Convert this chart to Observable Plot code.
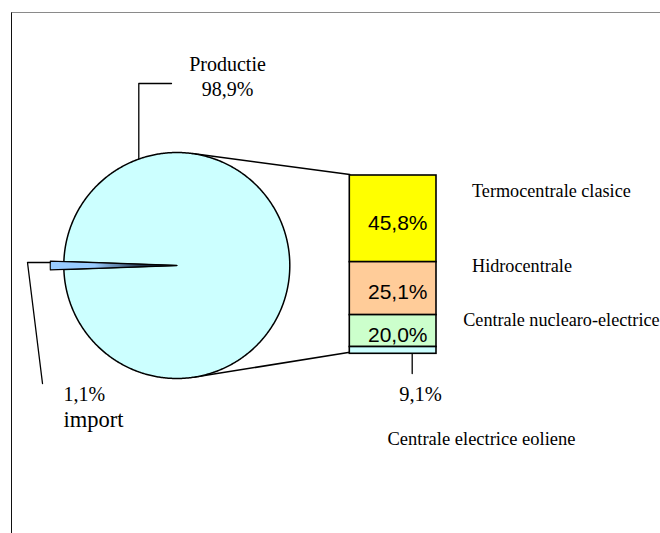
<!DOCTYPE html>
<html>
<head>
<meta charset="utf-8">
<script src="https://cdn.jsdelivr.net/npm/d3@7"></script>
<script src="https://cdn.jsdelivr.net/npm/@observablehq/plot@0.6"></script>
<style>
  html, body { margin: 0; padding: 0; background: #fff; }
  #wrap { position: relative; width: 660px; height: 533px; overflow: hidden; background: #fff; }
  #frame { position: absolute; left: 10.5px; top: 11.5px; width: 800px; height: 700px;
           border-top: 1.3px solid #8a8a8a; border-left: 1.3px solid #111; box-sizing: border-box; }
  #chart { position: absolute; left: 0; top: 0; }
</style>
</head>
<body>
<div id="wrap"><div id="frame"></div><div id="chart"></div></div>
<script>
// ---------- data ----------
const pieCategories = ["Productie", "import"];
const pieValues = [98.9, 1.1];
const pieLabels = ["98,9%", "1,1%"];

const barCategories = ["Termocentrale clasice", "Hidrocentrale", "Centrale nuclearo-electrice", "Centrale electrice eoliene"];
const barValues = [48.6, 29.7, 17.9, 3.8];
const barLabels = ["45,8%", "25,1%", "20,0%", "9,1%"];

// ---------- styles / layout ----------
const W = 660, H = 533;
const pieColors = ["#ccffff", "#99ccff"];
const barColors = ["#ffff00", "#ffcc99", "#ccffcc", "#ccffff"];
const serif = "'Liberation Serif', 'Times New Roman', serif";
const sans = "'Liberation Sans', Arial, sans-serif";
const pie = {cx: 176.3, cy: 265, r: 113, importScale: 1.12};
const bar = {x1: 349.3, x2: 436, top: 175, bottom: 353.3};

// ---------- pie geometry ----------
const halfImport = Math.PI * pieValues[1] / 100;
const arcs = d3.pie().sort(null).value(d => d)
  .startAngle(1.5 * Math.PI + halfImport)
  .endAngle(3.5 * Math.PI + halfImport)(pieValues);

function pt(a, r, id) { return {x: pie.cx + r * Math.sin(a), y: pie.cy - r * Math.cos(a), id}; }
function arcPoly(arc, r, id) {
  const n = Math.max(4, Math.ceil((arc.endAngle - arc.startAngle) / 0.01));
  const pts = [];
  for (let i = 0; i <= n; i++) pts.push(pt(arc.startAngle + (arc.endAngle - arc.startAngle) * i / n, r, id));
  pts.push({x: pie.cx, y: pie.cy, id});
  pts.push(pts[0]);
  return pts;
}
const mainSlice = arcPoly(arcs[0], pie.r, "main");
const importSlice = arcPoly(arcs[1], pie.r * pie.importScale, "import");

// ---------- bar geometry ----------
const total = d3.sum(barValues);
const cum = d3.cumsum(barValues);
const bh = bar.bottom - bar.top;
const barRects = barValues.map((v, i) => ({
  cat: barCategories[i],
  label: barLabels[i],
  y1: bar.top + (cum[i] - v) / total * bh,
  y2: bar.top + cum[i] / total * bh,
  fill: barColors[i]
}));

// tangent connectors from pie to bar corners
function tangent(px, py, sign) {
  const vx = px - pie.cx, vy = py - pie.cy;
  const d = Math.hypot(vx, vy);
  const a = Math.atan2(vy, vx) + sign * Math.acos(pie.r / d);
  return {x: pie.cx + pie.r * Math.cos(a), y: pie.cy + pie.r * Math.sin(a)};
}
const tTop = tangent(bar.x1, bar.top, -1);
const tBot = tangent(bar.x1, bar.bottom, 1);
const connectors = [
  {...tTop, id: "top"}, {x: bar.x1, y: bar.top - 1, id: "top"},
  {...tBot, id: "bot"}, {x: bar.x1, y: bar.bottom - 1.5, id: "bot"}
];

// leader lines
const prodX = 138.3;
const prodY = pie.cy - Math.sqrt(pie.r ** 2 - (prodX - pie.cx) ** 2);
const importTip = pt(arcs[1].endAngle, pie.r * pie.importScale);
const eolX = 411.7;
const leaders = [
  {x: prodX, y: prodY, id: "p"}, {x: prodX, y: 83, id: "p"}, {x: 171, y: 83, id: "p"},
  {x: importTip.x, y: 262, id: "i"}, {x: 27, y: 262, id: "i"}, {x: 42, y: 383, id: "i"},
  {x: eolX, y: bar.bottom, id: "e"}, {x: eolX, y: 373, id: "e"}
];

// annotation texts
const serifTexts = [
  {t: pieCategories[0], x: 227, y: 64, s: 20, a: "middle"},
  {t: pieLabels[0], x: 227, y: 89, s: 20, a: "middle"},
  {t: pieLabels[1], x: 63, y: 393.6, s: 20, a: "start"},
  {t: pieCategories[1], x: 63, y: 419, s: 22.5, a: "start"},
  {t: barLabels[3], x: 420, y: 393.6, s: 20.5, a: "middle"},
  {t: barCategories[0], x: 471.5, y: 191, s: 18.2, a: "start"},
  {t: barCategories[1], x: 471.5, y: 266, s: 18.2, a: "start"},
  {t: barCategories[2], x: 462.7, y: 319.2, s: 18.2, a: "start"},
  {t: barCategories[3], x: 387, y: 439, s: 18.5, a: "start"}
];

const chart = Plot.plot({
  width: W, height: H, margin: 0,
  x: {domain: [0, W], range: [0, W], axis: null},
  y: {domain: [0, H], range: [0, H], axis: null},
  style: {background: "transparent", overflow: "visible"},
  marks: [
    Plot.line(connectors, {x: "x", y: "y", z: "id", stroke: "#000", strokeWidth: 1.6}),
    Plot.line(mainSlice, {x: "x", y: "y", fill: pieColors[0], stroke: "#000", strokeWidth: 1.5, strokeLinejoin: "round"}),
    Plot.line(importSlice, {x: "x", y: "y", fill: "url(#importGrad)", stroke: "#000", strokeWidth: 1.1, strokeLinejoin: "round"}),
    Plot.rect(barRects, {x1: bar.x1, x2: bar.x2, y1: "y1", y2: "y2", fill: "fill", stroke: "#000", strokeWidth: 1.6}),
    Plot.line(leaders, {x: "x", y: "y", z: "id", stroke: "#000", strokeWidth: 1.3}),
    Plot.text(barRects.slice(0, 3), {x: 427, y: d => (d.y1 + d.y2) / 2 + 4, text: "label",
      textAnchor: "end", fontSize: 21, fontFamily: sans, fill: "#000"}),
    ...serifTexts.map(d => Plot.text([d], {x: "x", y: "y", text: "t", textAnchor: d.a,
      fontSize: d.s, fontFamily: serif, fill: "#000"}))
  ]
});

// gradient for the thin import wedge (light blue at its outer end, dark toward the centre)
const svg = d3.select(chart.tagName.toLowerCase() === "svg" ? chart : chart.querySelector("svg"));
const grad = svg.insert("defs", ":first-child").append("linearGradient")
  .attr("id", "importGrad").attr("gradientUnits", "userSpaceOnUse")
  .attr("x1", importTip.x).attr("y1", pie.cy).attr("x2", pie.cx).attr("y2", pie.cy);
grad.append("stop").attr("offset", "0").attr("stop-color", pieColors[1]);
grad.append("stop").attr("offset", "0.35").attr("stop-color", pieColors[1]);
grad.append("stop").attr("offset", "0.75").attr("stop-color", "#1a2a40");
grad.append("stop").attr("offset", "1").attr("stop-color", "#000");

document.getElementById("chart").appendChild(chart);
</script>
</body>
</html>
